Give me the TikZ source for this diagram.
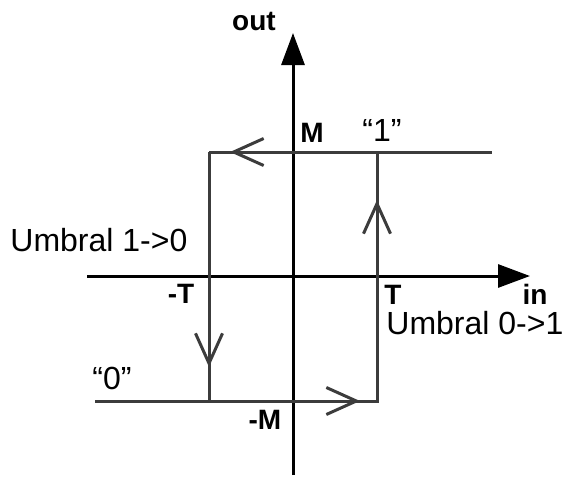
\documentclass[tikz,border=0pt]{standalone}
\usepackage{fontspec}
\setmainfont{Liberation Sans}
\usetikzlibrary{arrows.meta}
\definecolor{loopgray}{RGB}{60,60,60}
\tikzset{
  axisline/.style={line width=1.5pt,black,-{Triangle[length=16pt,width=11.5pt]}},
  loopline/.style={line width=1.5pt,loopgray},
  barb/.style={line width=1.5pt,loopgray,-{Straight Barb[length=15pt,width=13.5pt,line width=1.5pt]}},
  boldlbl/.style={inner sep=0pt,font=\fontsize{14}{16}\selectfont\bfseries},
  txtlbl/.style={inner sep=0pt,font=\fontsize{16}{19}\selectfont}
}
\begin{document}
\begin{tikzpicture}[x=0.5pt,y=-0.5pt]
\useasboundingbox (0,0) rectangle (564,478);
% axes
\coordinate (xl) at (87,276);
\coordinate (xr) at (530,276);
\coordinate (yb) at (293,475);
\coordinate (yt) at (293,33);
\draw[axisline] (xl) -- (xr);
\draw[axisline] (yb) -- (yt);
% loop corners
\coordinate (tl) at (209,152);
\coordinate (tr) at (492,152);
\coordinate (tt) at (377,152);
\coordinate (bt) at (377,401);
\coordinate (bl) at (209,401);
\coordinate (be) at (95,401);
\draw[loopline] (tl) -- (tr);
\draw[loopline] (tl) -- (bl);
\draw[loopline] (be) -- (bt) -- (tt);
% direction marks
\coordinate (lefttip) at (230,152);
\coordinate (downtip) at (209,367);
\coordinate (righttip) at (360,401);
\coordinate (uptip) at (377,200);
\draw[barb] (tt) -- (lefttip);
\draw[barb] (tl) -- (downtip);
\draw[barb] (bl) -- (righttip);
\draw[barb] (bt) -- (uptip);
% labels
\node[boldlbl] (out) at (254,21) {out};
\node[boldlbl] (in) at (535,294) {in};
\node[boldlbl] (M) at (312,133) {M};
\node[boldlbl] (mM) at (265,420) {-M};
\node[boldlbl] (T) at (393,295) {T};
\node[boldlbl] (mT) at (181,294) {-T};
\node[txtlbl] (one) at (382,130) {“1”};
\node[txtlbl] (zero) at (112,378) {“0”};
\node[txtlbl,anchor=west] (u10) at (10,240) {Umbral 1->0};
\node[txtlbl,anchor=west] (u01) at (386,323) {Umbral 0->1};
\end{tikzpicture}
\end{document}
